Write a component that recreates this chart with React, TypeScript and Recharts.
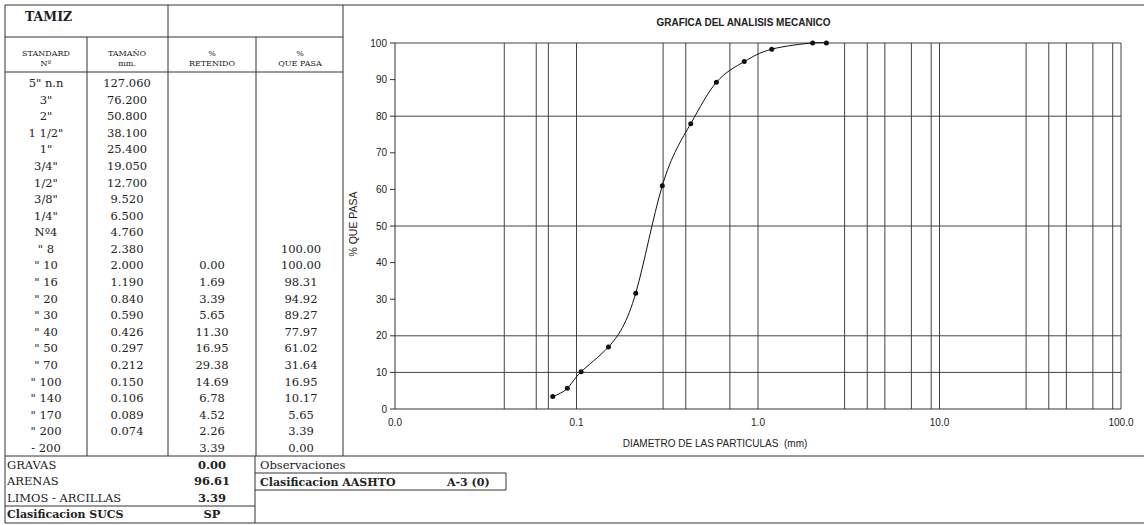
import { LineChart, Line, XAxis, YAxis, ReferenceLine } from "recharts";

// tabla de tamices
const standard = [
  '5" n.n', '3"', '2"', '1 1/2"', '1"', '3/4"', '1/2"', '3/8"', '1/4"', "Nº4",
  '" 8', '" 10', '" 16', '" 20', '" 30', '" 40', '" 50', '" 70', '" 100', '" 140',
  '" 170', '" 200', "- 200",
];
const sizeMm = [
  127.06, 76.2, 50.8, 38.1, 25.4, 19.05, 12.7, 9.52, 6.5, 4.76,
  2.38, 2.0, 1.19, 0.84, 0.59, 0.426, 0.297, 0.212, 0.15, 0.106,
  0.089, 0.074, null,
];
const retenido = [
  null, null, null, null, null, null, null, null, null, null,
  null, 0.0, 1.69, 3.39, 5.65, 11.3, 16.95, 29.38, 14.69, 6.78,
  4.52, 2.26, 3.39,
];
const quePasa = [
  null, null, null, null, null, null, null, null, null, null,
  100.0, 100.0, 98.31, 94.92, 89.27, 77.97, 61.02, 31.64, 16.95, 10.17,
  5.65, 3.39, 0.0,
];

const summaryLabels = ["GRAVAS", "ARENAS", "LIMOS - ARCILLAS"];
const summaryValues = [0.0, 96.61, 3.39];
const sucs = "SP";
const aashto = "A-3 (0)";

const xTicks = [0.01, 0.1, 1, 10, 100];
const yTicks = [0, 10, 20, 30, 40, 50, 60, 70, 80, 90, 100];
const xGrid = [0.04, 0.06, 0.07, 0.1, 0.3, 0.4, 0.7, 1, 3, 4, 5, 7, 9, 10, 30, 40, 50, 70, 90, 100];
const yGrid = [10, 20, 50, 80, 100];

const curve = sizeMm
  .map((s, i) => ({ size: s, pasa: quePasa[i] }))
  .filter((d) => d.size != null && d.pasa != null)
  .sort((a, b) => (a.size as number) - (b.size as number));

const serif = "'DejaVu Serif', 'Liberation Serif', serif";
const sans = "'Liberation Sans', Arial, sans-serif";
const ink = "#222";
const rule = "#333";

const rowY = (i: number) => 83 + 16.59 * i;

function Sheet() {
  const L = (x1: number, y1: number, x2: number, y2: number, w = 1) => (
    <line x1={x1} y1={y1} x2={x2} y2={y2} stroke={rule} strokeWidth={w} />
  );
  return (
    <svg width={1144} height={525} style={{ position: "absolute", left: 0, top: 0 }}>
      {/* marco */}
      {L(5, 5, 1144, 5)}
      {L(5, 5, 5, 523)}
      {L(5, 523, 1144, 523)}
      {L(5, 37, 343, 37)}
      {L(5, 72, 343, 72)}
      {L(5, 456, 1144, 456)}
      {L(87, 37, 87, 456)}
      {L(168, 5, 168, 456)}
      {L(256, 37, 256, 456)}
      {L(343, 5, 343, 456)}
      {L(255, 456, 255, 523)}
      {L(5, 506, 255, 506)}
      {L(255, 473, 506, 473)}
      {L(255, 490, 506, 490)}
      {L(506, 473, 506, 490)}

      <text x={25} y={16} fontFamily={serif} fontWeight="bold" fontSize={12.5} fill={ink} dominantBaseline="central">
        TAMIZ
      </text>

      <g fontFamily={serif} fontSize={8} fill={ink} textAnchor="middle" dominantBaseline="central">
        <text x={46} y={53}>STANDARD</text>
        <text x={46} y={63}>Nº</text>
        <text x={127} y={53}>TAMAÑO</text>
        <text x={127} y={63}>mm.</text>
        <text x={212} y={53}>%</text>
        <text x={212} y={63}>RETENIDO</text>
        <text x={300} y={53}>%</text>
        <text x={300} y={63}>QUE PASA</text>
      </g>

      <g fontFamily={serif} fontSize={11.5} fill={ink} textAnchor="middle" dominantBaseline="central">
        {standard.map((s, i) => (
          <text key={"s" + i} x={46} y={rowY(i)}>{s}</text>
        ))}
        {sizeMm.map((v, i) =>
          v == null ? null : (
            <text key={"m" + i} x={127} y={rowY(i)}>{v.toFixed(3)}</text>
          )
        )}
        {retenido.map((v, i) =>
          v == null ? null : (
            <text key={"r" + i} x={212} y={rowY(i)}>{v.toFixed(2)}</text>
          )
        )}
        {quePasa.map((v, i) =>
          v == null ? null : (
            <text key={"p" + i} x={301} y={rowY(i)}>{v.toFixed(2)}</text>
          )
        )}
      </g>

      <g fontFamily={serif} fontSize={11.5} fill={ink} dominantBaseline="central">
        {summaryLabels.map((s, i) => (
          <text key={"l" + i} x={7} y={rowY(23 + i)}>{s}</text>
        ))}
        {summaryValues.map((v, i) => (
          <text key={"v" + i} x={212} y={rowY(23 + i)} textAnchor="middle" fontWeight="bold">
            {v.toFixed(2)}
          </text>
        ))}
        <text x={7} y={rowY(26)} fontWeight="bold" fontSize={11}>Clasificacion SUCS</text>
        <text x={212} y={rowY(26)} textAnchor="middle" fontWeight="bold">{sucs}</text>
        <text x={260} y={rowY(23)}>Observaciones</text>
        <text x={260} y={482} fontWeight="bold" fontSize={11}>Clasificacion AASHTO</text>
        <text x={447} y={482} fontWeight="bold" fontSize={11}>{aashto}</text>
      </g>
    </svg>
  );
}

export default function App() {
  return (
    <div style={{ position: "absolute", left: 0, top: 0, width: 1144, height: 525, background: "#fff" }}>
      <Sheet />
      <div
        style={{
          position: "absolute",
          left: 343,
          top: 17,
          width: 801,
          textAlign: "center",
          fontFamily: sans,
          fontWeight: "bold",
          fontSize: 10,
          color: ink,
        }}
      >
        GRAFICA DEL ANALISIS MECANICO
      </div>
      <div
        style={{
          position: "absolute",
          left: 353,
          top: 224,
          transform: "translate(-50%, -50%) rotate(-90deg)",
          whiteSpace: "nowrap",
          fontFamily: sans,
          fontSize: 10.5,
          color: ink,
        }}
      >
        % QUE PASA
      </div>
      <div
        style={{
          position: "absolute",
          left: 715,
          top: 443,
          transform: "translate(-50%, -50%)",
          whiteSpace: "pre",
          fontFamily: sans,
          fontSize: 10,
          color: ink,
        }}
      >
        {"DIAMETRO DE LAS PARTICULAS  (mm)"}
      </div>
      <div style={{ position: "absolute", left: 343, top: 5 }}>
        <LineChart width={801} height={450} data={curve} margin={{ top: 38, right: 23, left: 0, bottom: 0 }}>
          {xGrid.map((v) => (
            <ReferenceLine key={"x" + v} x={v} stroke="#444" strokeWidth={1} />
          ))}
          {yGrid.map((v) => (
            <ReferenceLine key={"y" + v} y={v} stroke="#444" strokeWidth={1} />
          ))}
          <XAxis
            dataKey="size"
            type="number"
            scale="log"
            domain={[0.01, 100]}
            ticks={xTicks}
            interval={0}
            allowDataOverflow
            height={46}
            tickLine={false}
            tickSize={5}
            tickMargin={5}
            axisLine={{ stroke: rule }}
            tick={{ fontSize: 10, fill: ink, fontFamily: sans }}
            tickFormatter={(v: number) => v.toFixed(1)}
          />
          <YAxis
            type="number"
            domain={[0, 100]}
            ticks={yTicks}
            interval={0}
            width={52}
            tickSize={5}
            tickMargin={3}
            axisLine={{ stroke: rule }}
            tickLine={{ stroke: rule }}
            tick={{ fontSize: 10, fill: ink, fontFamily: sans }}
          />
          <Line
            type="natural"
            dataKey="pasa"
            stroke="#111"
            strokeWidth={1}
            dot={{ r: 2.5, fill: "#111", stroke: "#111", strokeWidth: 0 }}
            isAnimationActive={false}
          />
        </LineChart>
      </div>
    </div>
  );
}
